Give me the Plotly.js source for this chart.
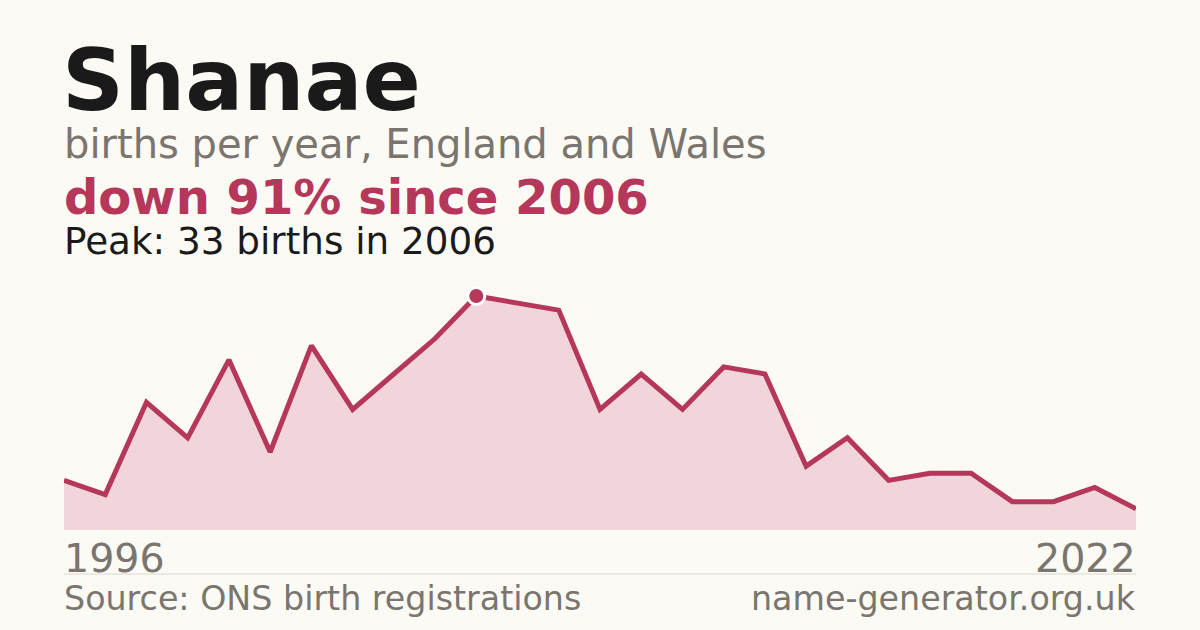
<!DOCTYPE html>
<html>
<head>
<meta charset="utf-8">
<script src="https://cdn.plot.ly/plotly-3.0.1.min.js"></script>
<style>
  html, body { margin: 0; padding: 0; background: #fbfaf5; }
  #chart { width: 1200px; height: 630px; }
</style>
</head>
<body>
<div id="chart"></div>
<script>
// births per year for "Shanae"
var years = [1996, 1997, 1998, 1999, 2000, 2001, 2002, 2003, 2004, 2005, 2006, 2007, 2008, 2009,
             2010, 2011, 2012, 2013, 2014, 2015, 2016, 2017, 2018, 2019, 2020, 2021, 2022];
var births = [7, 5, 18, 13, 24, 11, 26, 17, 22, 27, 33, 32, 31, 17,
              22, 17, 23, 22, 9, 13, 7, 8, 8, 4, 4, 6, 3];

var peakYear = [2006];
var peakBirths = [33];

var babyName = 'Shanae';
var firstYear = '1996';
var lastYear = '2022';

var lineColor = '#b5375a';
var fillColor = '#f2d5da';
var grey = '#7a756e';

// plot area runs from y=263px to y=530px, helper to place text by pixel
var plotTop = 263, plotBottom = 530;
function py(px) { return (plotBottom - px) / (plotBottom - plotTop); }

var area = {
    x: years,
    y: births,
    type: 'scatter',
    mode: 'lines',
    fill: 'tozeroy',
    fillcolor: fillColor,
    line: { color: lineColor, width: 5 },
    hoverinfo: 'skip'
};

var peak = {
    x: peakYear,
    y: peakBirths,
    type: 'scatter',
    mode: 'markers',
    marker: { size: 17, color: lineColor, line: { color: '#ffffff', width: 3 } },
    hoverinfo: 'skip'
};

var font = 'DejaVu Sans, sans-serif';

var layout = {
    width: 1200,
    height: 630,
    showlegend: false,
    paper_bgcolor: '#fbfaf5',
    plot_bgcolor: 'rgba(0,0,0,0)',
    margin: { l: 64, r: 64, t: plotTop, b: 630 - plotBottom, pad: 0 },
    xaxis: {
        range: [1996, 2022],
        showgrid: false, zeroline: false, showticklabels: false, showline: false, ticks: ''
    },
    yaxis: {
        range: [0, 37.65],
        showgrid: false, zeroline: false, showticklabels: false, showline: false, ticks: ''
    },
    shapes: [
        {
            type: 'line', xref: 'paper', yref: 'paper',
            x0: 0, x1: 1, y0: py(574), y1: py(574),
            line: { color: '#dcd8d0', width: 1 }
        }
    ],
    annotations: [
        {
            text: '<b>' + babyName + '</b>', xref: 'paper', yref: 'paper',
            x: -0.004, y: py(80), xanchor: 'left', yanchor: 'middle', showarrow: false,
            font: { family: font, size: 86, color: '#1a1a1a' }
        },
        {
            text: 'births per year, England and Wales', xref: 'paper', yref: 'paper',
            x: -0.002, y: py(144), xanchor: 'left', yanchor: 'middle', showarrow: false,
            font: { family: font, size: 40, color: grey }
        },
        {
            text: '<b>down 91% since 2006</b>', xref: 'paper', yref: 'paper',
            x: -0.002, y: py(197), xanchor: 'left', yanchor: 'middle', showarrow: false,
            font: { family: font, size: 48, color: lineColor }
        },
        {
            text: 'Peak: 33 births in 2006', xref: 'paper', yref: 'paper',
            x: -0.002, y: py(241), xanchor: 'left', yanchor: 'middle', showarrow: false,
            font: { family: font, size: 37.3, color: '#1a1a1a' }
        },
        {
            text: firstYear, xref: 'paper', yref: 'paper',
            x: -0.002, y: py(558), xanchor: 'left', yanchor: 'middle', showarrow: false,
            font: { family: font, size: 39.5, color: grey }
        },
        {
            text: lastYear, xref: 'paper', yref: 'paper',
            x: 1.002, y: py(558), xanchor: 'right', yanchor: 'middle', showarrow: false,
            font: { family: font, size: 39.5, color: grey }
        },
        {
            text: 'Source: ONS birth registrations', xref: 'paper', yref: 'paper',
            x: -0.002, y: py(598), xanchor: 'left', yanchor: 'middle', showarrow: false,
            font: { family: font, size: 33.3, color: grey }
        },
        {
            text: 'name-generator.org.uk', xref: 'paper', yref: 'paper',
            x: 1.002, y: py(598), xanchor: 'right', yanchor: 'middle', showarrow: false,
            font: { family: font, size: 33.3, color: grey }
        }
    ]
};

Plotly.newPlot('chart', [area, peak], layout, { displayModeBar: false, staticPlot: true });
</script>
</body>
</html>
